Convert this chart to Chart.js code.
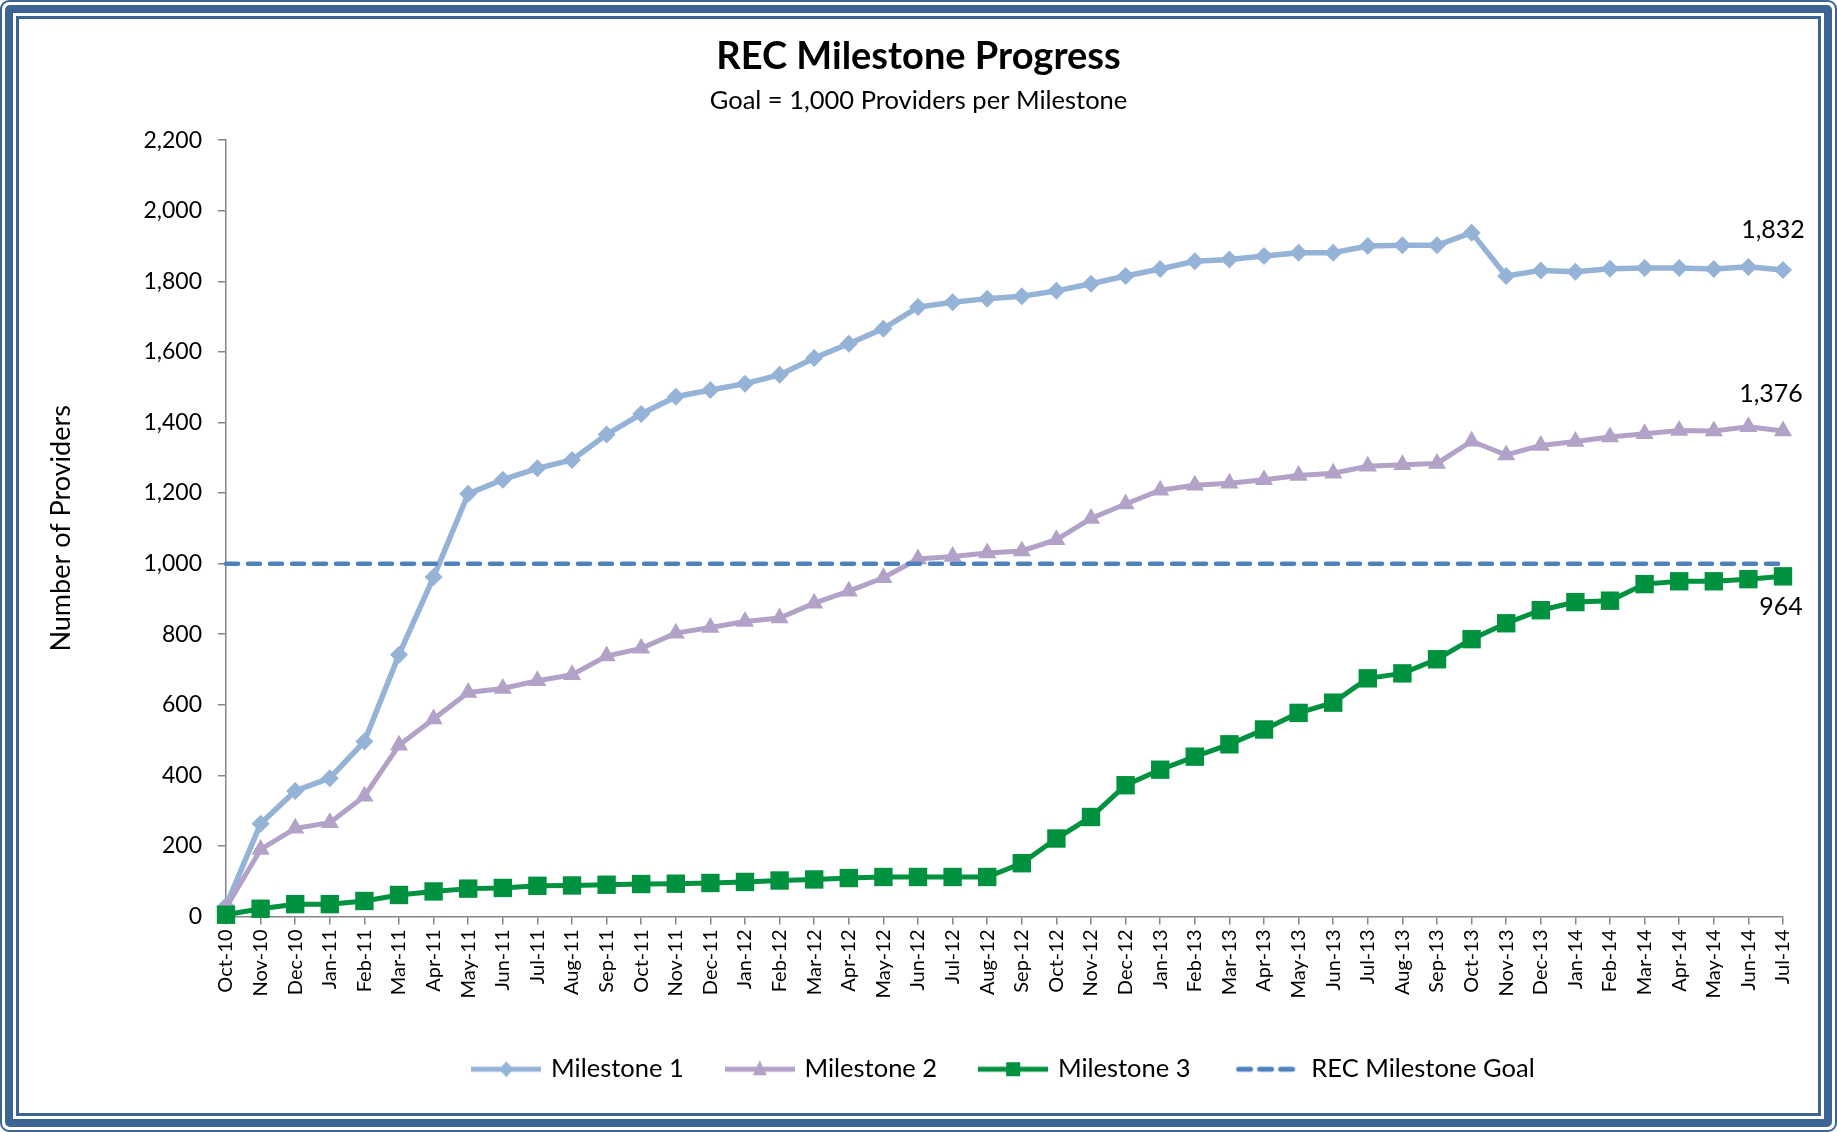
<!DOCTYPE html>
<html>
<head>
<meta charset="utf-8">
<script src="https://cdn.jsdelivr.net/npm/chart.js@4.4.1/dist/chart.umd.min.js"></script>
<style>
html,body{margin:0;padding:0;background:#fff;width:1837px;height:1132px;overflow:hidden;}
#wrap{position:relative;width:1837px;height:1132px;background:#fff;}
#c{position:absolute;left:0;top:0;}
.b{position:absolute;box-sizing:border-box;pointer-events:none;}
</style>
</head>
<body>
<div id="wrap">
<canvas id="c" width="1837" height="1132"></canvas>
<div class="b" style="left:0;top:0;right:0;bottom:0;border:2px solid #3c6494;border-radius:9px;"></div>
<div class="b" style="left:5px;top:5px;right:5px;bottom:5px;border:8px solid #3c6494;border-radius:5px;"></div>
<div class="b" style="left:16px;top:16px;right:16px;bottom:16px;border:3px solid #3c6494;"></div>
</div>
<script>
// ---- DATA ----
const months = ['Oct-10','Nov-10','Dec-10',
  'Jan-11','Feb-11','Mar-11','Apr-11','May-11','Jun-11','Jul-11','Aug-11','Sep-11','Oct-11','Nov-11','Dec-11',
  'Jan-12','Feb-12','Mar-12','Apr-12','May-12','Jun-12','Jul-12','Aug-12','Sep-12','Oct-12','Nov-12','Dec-12',
  'Jan-13','Feb-13','Mar-13','Apr-13','May-13','Jun-13','Jul-13','Aug-13','Sep-13','Oct-13','Nov-13','Dec-13',
  'Jan-14','Feb-14','Mar-14','Apr-14','May-14','Jun-14','Jul-14'];

const milestone1 = [30, 263, 356, 392, 496, 742, 962, 1198, 1238, 1270,
  1294, 1366, 1424, 1473, 1492, 1510, 1535, 1583, 1623, 1666,
  1727, 1741, 1751, 1758, 1773, 1793, 1815, 1835, 1857, 1862,
  1872, 1881, 1881, 1900, 1902, 1902, 1938, 1815, 1831, 1827,
  1836, 1838, 1838, 1835, 1841, 1832];

const milestone2 = [25, 190, 250, 266, 341, 485, 560, 635, 646, 668,
  685, 738, 760, 803, 819, 836, 846, 888, 922, 960,
  1013, 1020, 1030, 1036, 1068, 1128, 1169, 1208, 1222, 1228,
  1238, 1250, 1256, 1276, 1280, 1284, 1347, 1308, 1335, 1346,
  1359, 1368, 1377, 1376, 1388, 1376];

const milestone3 = [5, 22, 35, 35, 44, 61, 71, 79, 81, 87,
  88, 90, 92, 93, 95, 98, 102, 105, 109, 112,
  112, 112, 112, 151, 221, 282, 372, 416, 453, 488,
  530, 577, 606, 675, 689, 729, 786, 831, 868, 891,
  895, 942, 950, 950, 956, 964];

const milestoneGoal = [1000,1000,1000,1000,1000,1000,1000,1000,1000,1000,
  1000,1000,1000,1000,1000,1000,1000,1000,1000,1000,
  1000,1000,1000,1000,1000,1000,1000,1000,1000,1000,
  1000,1000,1000,1000,1000,1000,1000,1000,1000,1000,
  1000,1000,1000,1000,1000,1000];

const seriesNames = ['Milestone 1','Milestone 2','Milestone 3','REC Milestone Goal'];
const yMin = 0, yMax = 2200, yStep = 200;
const chartTitle = 'REC Milestone Progress';
const chartSubtitle = 'Goal = 1,000 Providers per Milestone';
const yAxisTitle = 'Number of Providers';

// ---- STYLE ----
const FONT = 'Lato';
const C1 = '#95b3d7', C2 = '#b3a2c7', C3 = '#00923f', CG = '#4f81bd';

function legendImg(color, shape){
  const c = document.createElement('canvas');
  c.width = 70; c.height = 24;
  const x = c.getContext('2d');
  x.strokeStyle = color; x.fillStyle = color; x.lineWidth = 5;
  if (shape === 'dash'){
    x.lineCap = 'round';
    x.setLineDash([12, 9]);
    x.beginPath(); x.moveTo(7, 12); x.lineTo(63, 12); x.stroke();
    return c;
  }
  x.beginPath(); x.moveTo(0, 12); x.lineTo(70, 12); x.stroke();
  x.beginPath();
  if (shape === 'diamond'){ x.moveTo(35, 4); x.lineTo(42, 12); x.lineTo(35, 20); x.lineTo(28, 12); }
  else if (shape === 'triangle'){ x.moveTo(35, 3); x.lineTo(42, 18); x.lineTo(28, 18); }
  else { x.rect(28, 5, 14, 14); }
  x.closePath(); x.fill();
  return c;
}

const endLabels = {
  id: 'endLabels',
  afterDatasetsDraw(chart){
    const ctx = chart.ctx;
    const offs = [{ds:0, dx:-10, dy:-40}, {ds:1, dx:-12, dy:-37}, {ds:2, dx:-2, dy:31}];
    ctx.save();
    ctx.font = '25px ' + FONT;
    ctx.fillStyle = '#000';
    ctx.textAlign = 'center';
    ctx.textBaseline = 'middle';
    offs.forEach(o => {
      const meta = chart.getDatasetMeta(o.ds);
      const data = chart.data.datasets[o.ds].data;
      const pt = meta.data[data.length - 1];
      ctx.fillText(data[data.length - 1].toLocaleString('en-US'), pt.x + o.dx, pt.y + o.dy);
    });
    ctx.restore();
  }
};

function build(){
  const imgs = [legendImg(C1,'diamond'), legendImg(C2,'triangle'), legendImg(C3,'square'), legendImg(CG,'dash')];
  new Chart(document.getElementById('c'), {
    type: 'line',
    data: {
      labels: months,
      datasets: [
        {label: seriesNames[0], data: milestone1, borderColor: C1, backgroundColor: C1, borderWidth: 5.5,
         pointStyle: 'rectRot', pointRadius: 9, pointBorderWidth: 0, pointBackgroundColor: C1, order: 3, clip: false},
        {label: seriesNames[1], data: milestone2, borderColor: C2, backgroundColor: C2, borderWidth: 5,
         pointStyle: 'triangle', pointRadius: 10.5, pointBorderWidth: 0, pointBackgroundColor: C2, order: 2, clip: false},
        {label: seriesNames[2], data: milestone3, borderColor: C3, backgroundColor: C3, borderWidth: 5,
         pointStyle: 'rect', pointRadius: 13, pointBorderWidth: 0, pointBackgroundColor: C3, order: 1, clip: false},
        {label: seriesNames[3], data: milestoneGoal, borderColor: CG, backgroundColor: CG, borderWidth: 4.5,
         borderDash: [12, 10], borderCapStyle: 'round', pointRadius: 0, order: 0, clip: false}
      ]
    },
    options: {
      responsive: false,
      animation: false,
      devicePixelRatio: 1,
      events: [],
      elements: { line: { tension: 0 } },
      layout: { padding: { left: 54, right: 54, top: 20, bottom: 40 } },
      plugins: {
        title: { display: true, text: chartTitle, color: '#000',
          font: { family: FONT, size: 38, weight: 'bold', lineHeight: 1.2 }, padding: { top: 14, bottom: 0 } },
        subtitle: { display: true, text: chartSubtitle, color: '#000',
          font: { family: FONT, size: 25.5, lineHeight: 1.2 }, padding: { top: 6, bottom: 24 } },
        legend: {
          position: 'bottom', fullSize: false,
          labels: {
            usePointStyle: true, pointStyleWidth: 64, padding: 44, color: '#000',
            font: { family: FONT, size: 25.5 },
            generateLabels(chart){
              const items = Chart.defaults.plugins.legend.labels.generateLabels(chart);
              items.sort((a, b) => a.datasetIndex - b.datasetIndex);
              items.forEach(it => { it.pointStyle = imgs[it.datasetIndex]; it.lineWidth = 0; });
              return items;
            }
          }
        },
        tooltip: { enabled: false }
      },
      scales: {
        x: {
          type: 'category', offset: false,
          grid: { display: true, drawOnChartArea: false, drawTicks: true, tickLength: 8, color: '#868686', lineWidth: 1.5 },
          border: { display: true, color: '#868686', width: 1.5 },
          ticks: { autoSkip: false, maxRotation: 90, minRotation: 90, padding: 5, color: '#000',
            font: { family: FONT, size: 20 } },
          afterFit(s){ s.height = 96; }
        },
        y: {
          min: yMin, max: yMax,
          grid: { display: true, drawOnChartArea: false, drawTicks: true, tickLength: 8, color: '#868686', lineWidth: 1.5 },
          border: { display: true, color: '#868686', width: 1.5 },
          ticks: { stepSize: yStep, padding: 16, color: '#000', font: { family: FONT, size: 23 },
            callback: v => v.toLocaleString('en-US') },
          title: { display: true, text: yAxisTitle, color: '#000',
            font: { family: FONT, size: 27, lineHeight: 0.52 }, padding: { top: 0, bottom: 0 } },
          afterFit(s){ s.width = 172; }
        }
      }
    },
    plugins: [endLabels]
  });
}

const fontLoads = [document.fonts.load('24px Lato'), document.fonts.load('bold 38px Lato')];
Promise.all(fontLoads).then(build, build);
</script>
</body>
</html>
